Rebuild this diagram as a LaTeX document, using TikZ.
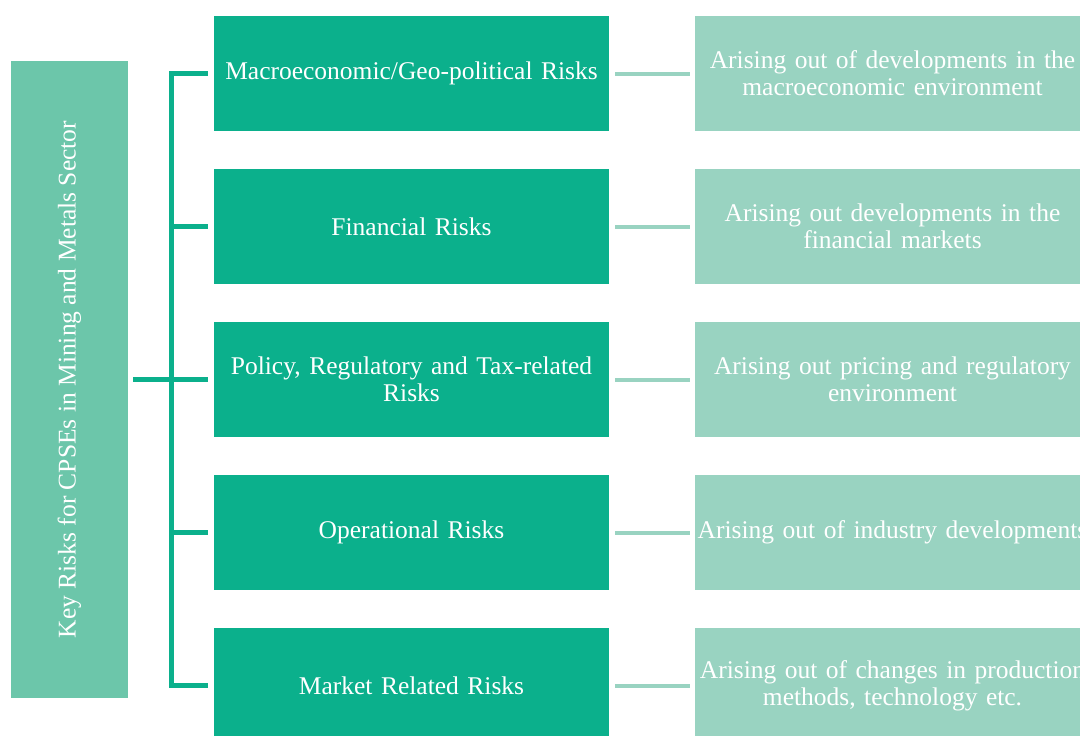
\documentclass[tikz,border=0pt]{standalone}
\usepackage{fontspec}
\setmainfont{Liberation Serif}
\definecolor{leftc}{HTML}{6CC6AA}
\definecolor{midc}{HTML}{0BB08C}
\definecolor{rightc}{HTML}{99D3C1}
\tikzset{
  txt/.style={font=\fontsize{25.5}{27}\selectfont, text=white, align=center},
  midbox/.style={txt, fill=midc, minimum width=395pt, minimum height=115pt, inner sep=0pt, text width=395pt},
  rightbox/.style={txt, fill=rightc, minimum width=395pt, minimum height=115pt, inner sep=0pt, text width=395pt},
  leftbox/.style={fill=leftc, minimum width=117pt, minimum height=637pt, inner sep=0pt},
  bracket/.style={draw=midc, line width=5pt},
  link/.style={draw=rightc, line width=4pt},
}
\begin{document}
\begin{tikzpicture}[x=1pt,y=-1pt]
\useasboundingbox (0,0) rectangle (1080,736);
\clip (0,0) rectangle (1080,736);
\node[leftbox] (L) at (69.5,379.5) {};
\node[txt, rotate=90] (Lt) at (L.center) {Key Risks for CPSEs in Mining and Metals Sector};
\node[midbox] (M1) at (411.5,73.5) {Macroeconomic/Geo-political Risks};
\node[midbox] (M2) at (411.5,226.5) {Financial Risks};
\node[midbox] (M3) at (411.5,379.5) {Policy, Regulatory and Tax-related\\Risks};
\node[midbox] (M4) at (411.5,532.5) {Operational Risks};
\node[midbox] (M5) at (411.5,685.5) {Market Related Risks};
\node[rightbox] (R1) at (892.5,73.5) {Arising out of developments in the\\macroeconomic environment};
\node[rightbox] (R2) at (892.5,226.5) {Arising out developments in the\\financial markets};
\node[rightbox] (R3) at (892.5,379.5) {Arising out pricing and regulatory\\environment};
\node[rightbox] (R4) at (892.5,532.5) {Arising out of industry developments};
\node[rightbox] (R5) at (892.5,685.5) {Arising out of changes in production\\methods, technology etc.};
\coordinate (bx) at (171,0);
\draw[bracket] ([xshift=-6pt]M1.west) -- (M1.west -| bx) -- (M5.west -| bx) -- ([xshift=-6pt]M5.west);
\foreach \m in {M2,M3,M4} \draw[bracket] (\m.west -| bx) -- ([xshift=-6pt]\m.west);
\draw[bracket] ([xshift=5pt]L.east) -- (L.east -| bx);
\foreach \i in {1,...,5} \draw[link] ([xshift=6pt]M\i.east) -- ([xshift=-5pt]R\i.west);
\end{tikzpicture}
\end{document}
